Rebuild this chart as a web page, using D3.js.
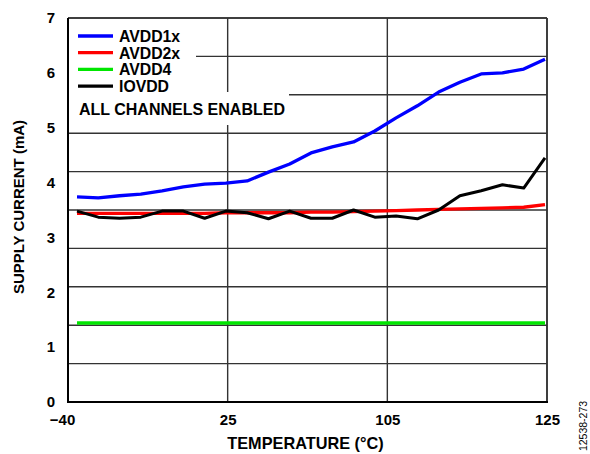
<!DOCTYPE html>
<html>
<head>
<meta charset="utf-8">
<script src="https://cdn.jsdelivr.net/npm/d3@7"></script>
<style>
html,body{margin:0;padding:0;background:#fff;}
svg{display:block;}
text{font-family:"Liberation Sans",Arial,sans-serif;font-weight:bold;fill:#000;}
</style>
</head>
<body>
<svg id="chart" width="590" height="454"></svg>
<script>
// ---- data ----
const temperature = [-40,-32.5,-25,-17.5,-10,-2.5,5,12.5,20,27.5,35,42.5,50,57.5,65,72.5,80,87.5,95,102.5,110,117.5,125];
const avdd1x = [3.74,3.72,3.76,3.79,3.85,3.92,3.97,3.99,4.03,4.19,4.34,4.54,4.65,4.74,4.94,5.18,5.40,5.65,5.83,5.98,6.00,6.07,6.25];
const avdd2x = [3.44,3.44,3.44,3.44,3.44,3.44,3.44,3.45,3.45,3.45,3.45,3.46,3.46,3.47,3.48,3.49,3.50,3.51,3.52,3.53,3.54,3.55,3.60];
const avdd4  = [1.44,1.44,1.44,1.44,1.44,1.44,1.44,1.44,1.44,1.44,1.44,1.44,1.44,1.44,1.44,1.44,1.44,1.44,1.44,1.44,1.44,1.44,1.44];
const iovdd  = [3.48,3.37,3.35,3.37,3.48,3.48,3.35,3.48,3.45,3.34,3.48,3.35,3.35,3.50,3.37,3.39,3.34,3.50,3.76,3.85,3.96,3.90,4.45];
const seriesNames = ["AVDD1x","AVDD2x","AVDD4","IOVDD"];
const xTickLabels = ["\u221240","25","105","125"];
const yTickValues = [0,1,2,3,4,5,6,7];
const yGridStep = 0.7;
const note = "ALL CHANNELS ENABLED";

// ---- layout ----
const L = 68, R = 547, T = 18, B = 402;
const svg = d3.select("#chart");

const x = d3.scaleLinear().domain([-40,125]).range([77,545]);
const xGrid = d3.scalePoint().domain(xTickLabels).range([L,R]);
const y = d3.scaleLinear().domain([0,7]).range([B,T]);

const colors = {AVDD1x:"#0000ff",AVDD2x:"#ff0000",AVDD4:"#00e600",IOVDD:"#000000"};
const values = {AVDD1x:avdd1x,AVDD2x:avdd2x,AVDD4:avdd4,IOVDD:iovdd};

// gridlines
const yGrid = d3.range(0, 7 + 1e-9, yGridStep);
svg.append("g").selectAll("line").data(yGrid).join("line")
  .attr("x1",L).attr("x2",R).attr("y1",d=>y(d)).attr("y2",d=>y(d))
  .attr("stroke","#333").attr("stroke-width",1.4);
svg.append("g").selectAll("line").data(xTickLabels).join("line")
  .attr("x1",d=>xGrid(d)).attr("x2",d=>xGrid(d)).attr("y1",T).attr("y2",B)
  .attr("stroke","#333").attr("stroke-width",1.4);

// legend background boxes (hide gridlines)
svg.append("rect").attr("x",L+1).attr("y",T+1).attr("width",196-L-1).attr("height",92-T-1).attr("fill","#fff");
svg.append("rect").attr("x",L+1).attr("y",92).attr("width",289-L-1).attr("height",33).attr("fill","#fff");

// frame
svg.append("line").attr("x1",L).attr("x2",R).attr("y1",T).attr("y2",T).attr("stroke","#333").attr("stroke-width",1.6);
svg.append("line").attr("x1",R).attr("x2",R).attr("y1",T).attr("y2",B).attr("stroke","#333").attr("stroke-width",1.6);
svg.append("line").attr("x1",L).attr("x2",L).attr("y1",T).attr("y2",B+1).attr("stroke","#000").attr("stroke-width",2);
svg.append("line").attr("x1",L-1).attr("x2",R+1).attr("y1",B).attr("y2",B).attr("stroke","#000").attr("stroke-width",2);

// series
const line = d3.line().x((d,i)=>x(temperature[i])).y(d=>y(d));
["AVDD4","AVDD2x","AVDD1x","IOVDD"].forEach(n=>{
  svg.append("path").datum(values[n]).attr("d",line)
    .attr("fill","none").attr("stroke",colors[n])
    .attr("stroke-width", n==="IOVDD"?3:3.3)
    .attr("stroke-linejoin","round");
});

// y axis labels
const yAxis = d3.axisLeft(y).tickValues(yTickValues).tickSize(0).tickPadding(13).tickFormat(d3.format("d"));
const gy = svg.append("g").attr("transform",`translate(${L},0)`).call(yAxis);
gy.select(".domain").remove();
gy.selectAll("text").style("font-size","15px").style("font-family","'Liberation Sans',Arial,sans-serif").style("font-weight","bold").attr("fill","#000");

// x axis labels
const xAxis = d3.axisBottom(xGrid).tickSize(0).tickPadding(12);
const gx = svg.append("g").attr("transform",`translate(0,${B})`).call(xAxis);
gx.select(".domain").remove();
gx.selectAll("text").style("font-size","15px").style("font-family","'Liberation Sans',Arial,sans-serif").style("font-weight","bold").attr("fill","#000")
  .attr("dx",(d,i)=>i===0?-6:0);

// axis titles
svg.append("text").attr("x",(L+R)/2-2).attr("y",449).attr("text-anchor","middle")
  .style("font-size","16.3px").text("TEMPERATURE (\u00B0C)");
svg.append("text").attr("transform","translate(24,207) rotate(-90)").attr("text-anchor","middle")
  .style("font-size","15px").text("SUPPLY CURRENT (mA)");

// legend
const lg = svg.append("g");
seriesNames.forEach((n,i)=>{
  const yy = 36 + i*16.7;
  lg.append("line").attr("x1",78).attr("x2",113).attr("y1",yy).attr("y2",yy)
    .attr("stroke",colors[n]).attr("stroke-width",3.3);
  lg.append("text").attr("x",119).attr("y",yy+5.8).style("font-size","15.8px").text(n);
});
svg.append("text").attr("x",79).attr("y",115).style("font-size","16px").text(note);

// figure id
svg.append("text").attr("transform","translate(587,426) rotate(-90)").attr("text-anchor","middle")
  .style("font-size","10.5px").style("font-weight","normal").text("12538-273");
</script>
</body>
</html>
